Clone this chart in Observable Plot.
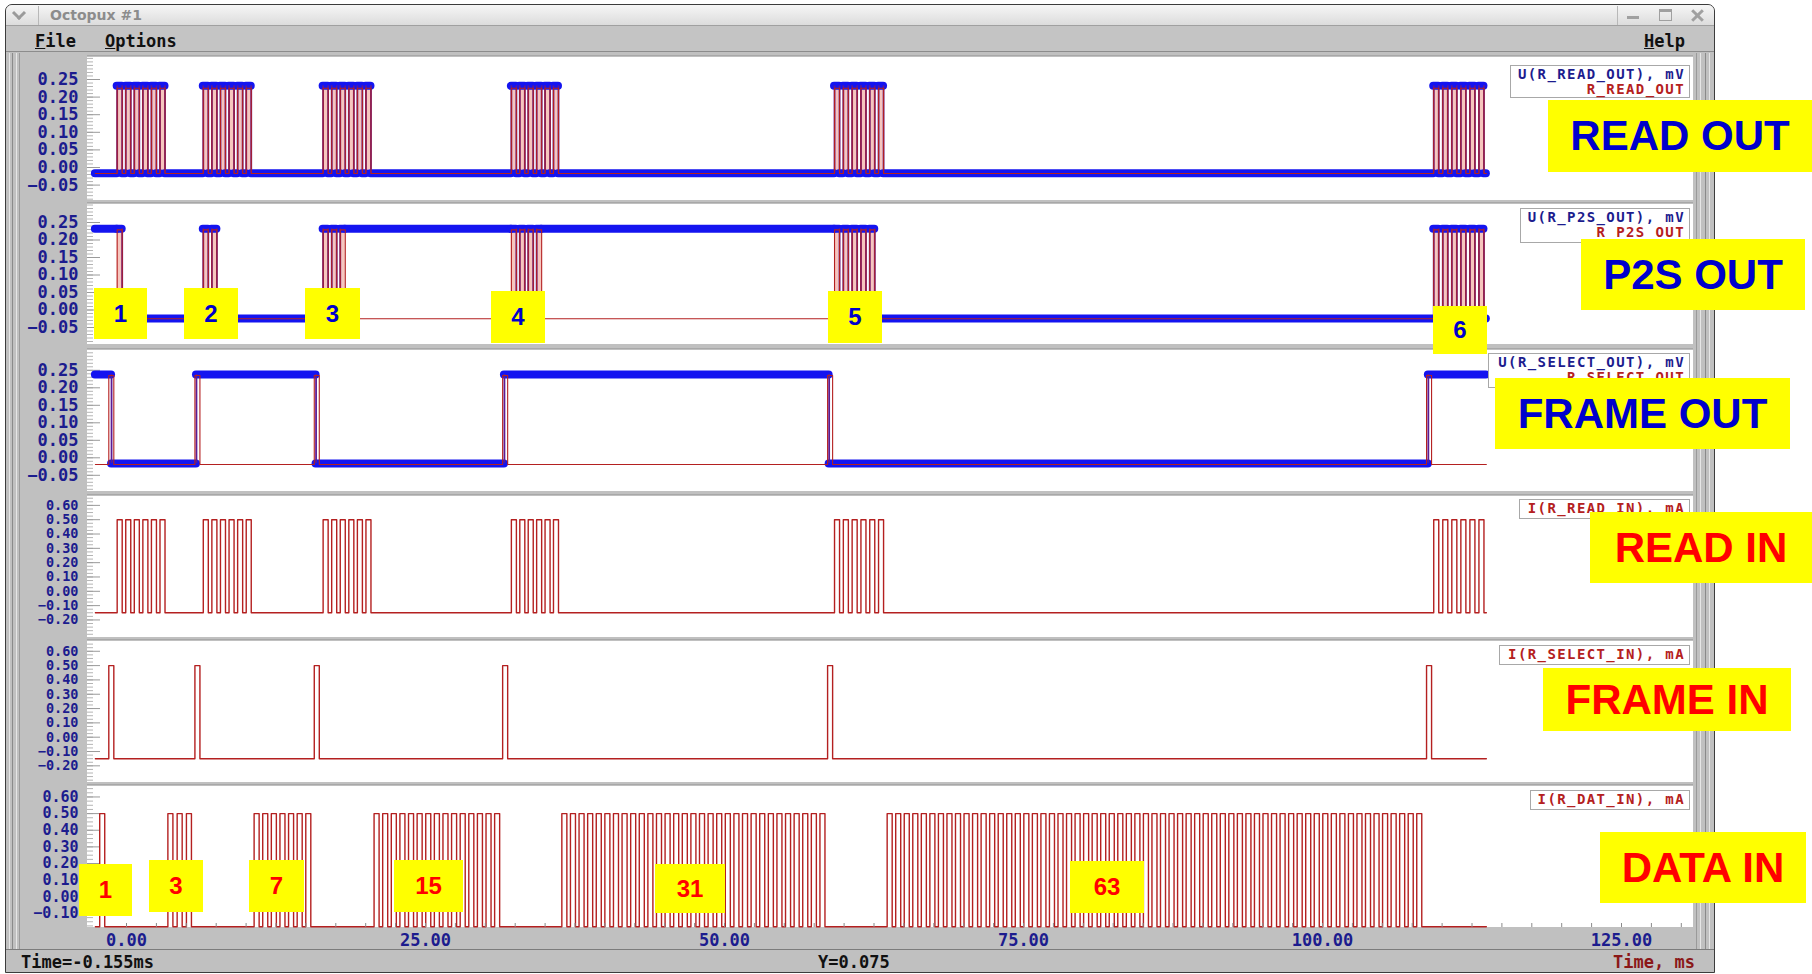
<!DOCTYPE html>
<html><head><meta charset="utf-8">
<script src="https://cdn.jsdelivr.net/npm/d3@7"></script>
<script src="https://cdn.jsdelivr.net/npm/@observablehq/plot@0.6"></script>
<style>
html,body{margin:0;padding:0;background:#fff;width:1812px;height:974px;overflow:hidden;}
#root{position:relative;width:1812px;height:974px;}
.mono{font-family:"DejaVu Sans Mono",monospace;font-weight:bold;font-size:17px;}
.ybox{background:#ffff00;display:flex;align-items:center;justify-content:center;font-family:"Liberation Sans",Arial,sans-serif;font-weight:bold;white-space:nowrap;}
.legend{background:#fff;border:1px solid #a8a8a8;text-align:right;padding-right:4px;box-sizing:border-box;line-height:15px;white-space:nowrap;font-family:"DejaVu Sans Mono",monospace;font-weight:bold;font-size:14px;letter-spacing:1.4px;}
svg{overflow:visible;}
</style></head>
<body><div id="root"></div>
<script>
// ================= DATA =================
const timeTicks = [0, 25, 50, 75, 100, 125];                 // ms
const outTicks  = [0.25, 0.20, 0.15, 0.10, 0.05, 0.00, -0.05]; // mV panels
const inTicks   = [0.60, 0.50, 0.40, 0.30, 0.20, 0.10, 0.00, -0.10, -0.20];
const datTicks  = [0.60, 0.50, 0.40, 0.30, 0.20, 0.10, 0.00, -0.10];

const traceStart = -2.6, traceEnd = 113.7;                     // ms
const pulseWidth = 0.42;                                       // ms
const frameInStart   = [-1.48, 5.72, 15.70, 31.45, 58.62, 108.70];
const readBurstStart = [-0.78, 6.42, 16.44, 32.18, 59.20, 109.30];
const readBurstEnd   = [ 3.22, 10.43, 20.44, 36.12, 63.30, 113.50];
const readPulseCount = [6, 6, 6, 6, 6, 6];
const dataBurstStart = [-2.24, 3.46, 10.67, 20.70, 36.40, 63.60];
const dataBurstEnd   = [-1.76, 5.43, 15.41, 31.20, 58.40, 108.30];
const dataPulseCount = [1, 3, 7, 15, 31, 63];
const p2sPulseCount  = [1, 2, 3, 4, 5, 6];
const p2sLevelAfter  = [0, 0, 1, 1, 0, 0];                     // 1 = held high after burst
const selectOutEdges = [-1.25, 5.85, 15.85, 31.60, 58.75, 108.85];

// signal levels [low, high]
const readOutRed = [-0.017, 0.225], readOutBlue = [-0.016, 0.232];
const p2sRed     = [-0.025, 0.229], p2sBlue     = [-0.024, 0.232];
const selOutRed  = [-0.019, 0.235], selOutBlue  = [-0.016, 0.238];
const readInLv   = [-0.15, 0.50];
const selInLv    = [-0.15, 0.50];
const datInLv    = [-0.18, 0.50];

const bigLabels    = ["READ OUT", "P2S OUT", "FRAME OUT", "READ IN", "FRAME IN", "DATA IN"];
const p2sBoxLabels = ["1", "2", "3", "4", "5", "6"];
const datBoxLabels = ["1", "3", "7", "15", "31", "63"];
const legendTop    = ["U(R_READ_OUT), mV", "U(R_P2S_OUT), mV", "U(R_SELECT_OUT), mV",
                      "I(R_READ_IN), mA", "I(R_SELECT_IN), mA", "I(R_DAT_IN), mA"];
const legendBottom = ["R_READ_OUT", "R_P2S_OUT", "R_SELECT_OUT", null, null, null];

// ================= derived tables =================
function bursts(starts, ends, counts) {
  return starts.map((s, b) => {
    const n = counts[b];
    const period = n > 1 ? (ends[b] - s - pulseWidth) / (n - 1) : 0;
    const list = [];
    for (let i = 0; i < n; i++) list.push([s + i * period, s + i * period + pulseWidth]);
    return list;
  });
}
const readPulses  = bursts(readBurstStart, readBurstEnd, readPulseCount);
const dataPulses  = bursts(dataBurstStart, dataBurstEnd, dataPulseCount);
const framePulses = frameInStart.map(s => [[s, s + pulseWidth]]);
const p2sPulses   = readPulses.map((l, b) => l.slice(0, p2sPulseCount[b]));

function train(pulseBursts, [lo, hi]) {
  const pts = [{t: traceStart, v: lo}];
  for (const list of pulseBursts) for (const [a, b] of list)
    pts.push({t: a, v: lo}, {t: a, v: hi}, {t: b, v: hi}, {t: b, v: lo});
  pts.push({t: traceEnd, v: lo});
  return pts;
}
function p2sBlueSteps([lo, hi]) {
  let level = 1;
  const pts = [{t: traceStart, v: hi}];
  p2sPulses.forEach((list, b) => {
    list.forEach(([a, e], i) => {
      pts.push({t: a, v: level ? hi : lo}, {t: a, v: hi});
      const next = i < list.length - 1 ? 0 : p2sLevelAfter[b];
      pts.push({t: e, v: hi}, {t: e, v: next ? hi : lo});
      level = next;
    });
  });
  pts.push({t: traceEnd, v: level ? hi : lo});
  return pts;
}
function toggles(edges, [lo, hi]) {
  let level = 1;
  const pts = [{t: traceStart, v: hi}];
  for (const e of edges) {
    pts.push({t: e, v: level ? hi : lo});
    level = 1 - level;
    pts.push({t: e, v: level ? hi : lo});
  }
  pts.push({t: traceEnd, v: level ? hi : lo});
  return pts;
}
function flats(pts) {
  const s = [];
  for (let i = 1; i < pts.length; i++)
    if (pts[i].v === pts[i - 1].v && pts[i].t > pts[i - 1].t) s.push({t1: pts[i - 1].t, t2: pts[i].t, v: pts[i].v});
  return s;
}
function verts(pts) {
  const s = [];
  for (let i = 1; i < pts.length; i++)
    if (pts[i].t === pts[i - 1].t && pts[i].v !== pts[i - 1].v) s.push({t: pts[i].t, v1: pts[i - 1].v, v2: pts[i].v});
  return s;
}

// ================= layout / style =================
const root = document.getElementById("root");
function box(css, text, cls) {
  const d = document.createElement("div");
  d.style.cssText = "position:absolute;" + css;
  if (cls) d.className = cls;
  if (text != null) d.textContent = text;
  root.appendChild(d);
  return d;
}
const NAVY = "#1c1c8e", RED = "#b42020", BLUE = "#1414f0", DARK = "#5a1c96", PINK = "#f6c6be";
const MONO = '"DejaVu Sans Mono", monospace';
const PX_PER_MS = 11.96, X0 = 126;
const plotLeft = 87, plotRight = 1693, svgLeft = 20;
const xDomain = [(plotLeft - X0) / PX_PER_MS, (plotRight - X0) / PX_PER_MS];
const panels = [
  {top: 57,  h: 143, zeroY: 167,   ppu: 352,   ticks: outTicks, minor: 0.01,  fs: 17},
  {top: 204, h: 140, zeroY: 309.5, ppu: 350,   ticks: outTicks, minor: 0.01,  fs: 17},
  {top: 350, h: 141, zeroY: 457.3, ppu: 350,   ticks: outTicks, minor: 0.01,  fs: 17},
  {top: 496, h: 141, zeroY: 590.8, ppu: 143.2, ticks: inTicks,  minor: 0.025, fs: 13.5},
  {top: 641, h: 141, zeroY: 736.7, ppu: 143.2, ticks: inTicks,  minor: 0.025, fs: 13.5},
  {top: 786, h: 141, zeroY: 896.3, ppu: 166.4, ticks: datTicks, minor: 0.025, fs: 15}
];

// ---- window chrome ----
box("left:5px;top:4px;width:1710px;height:969px;border:1px solid #3c3c3c;border-radius:7px 7px 0 0;background:#c0c0c0;box-sizing:border-box;");
box("left:6px;top:5px;width:1708px;height:20px;border-radius:6px 6px 0 0;background:linear-gradient(#f6f6f6,#dcdcdc);border-bottom:1px solid #a0a0a0;");
box("left:14px;top:8px;width:7px;height:7px;border-right:3px solid #9a9a9a;border-bottom:3px solid #9a9a9a;transform:rotate(45deg);");
box("left:38px;top:6px;width:1px;height:19px;background:#b8b8b8;");
box("left:50px;top:5px;font:bold 14px 'DejaVu Sans',sans-serif;color:#8c8c8c;line-height:20px;", "Octopux #1");
box("left:1617px;top:6px;width:1px;height:19px;background:#b8b8b8;");
box("left:1627px;top:16px;width:12px;height:3px;background:#a0a0a0;");
box("left:1659px;top:9px;width:11px;height:8px;border:1px solid #a0a0a0;border-top:3px solid #a0a0a0;");
box("left:1690px;top:14px;width:15px;height:3px;background:#a0a0a0;transform:rotate(45deg);");
box("left:1690px;top:14px;width:15px;height:3px;background:#a0a0a0;transform:rotate(-45deg);");
// menu bar
box("left:6px;top:26px;width:1708px;height:26px;background:#c4c4c4;border-bottom:1px solid #8c8c8c;box-sizing:border-box;");
box("left:35px;top:31px;color:#111;", null, "mono").innerHTML = "<u>F</u>ile";
box("left:105px;top:31px;color:#111;", null, "mono").innerHTML = "<u>O</u>ptions";
box("left:1644px;top:31px;color:#111;", null, "mono").innerHTML = "<u>H</u>elp";
// side decorations
for (const [x, c] of [[9, "#e6e6e6"], [12, "#8a8a8a"], [16, "#e6e6e6"], [19, "#9a9a9a"], [1696, "#9a9a9a"], [1700, "#e6e6e6"], [1705, "#8a8a8a"], [1709, "#e6e6e6"]])
  box(`left:${x}px;top:53px;width:1px;height:896px;background:${c};`);
// panel backgrounds
panels.forEach(p => {
  box(`left:${plotLeft}px;top:${p.top}px;width:${plotRight - plotLeft}px;height:${p.h}px;background:#fff;`);
  box(`left:${plotLeft}px;top:${p.top - 2}px;width:${plotRight - plotLeft}px;height:1px;background:#a8a8a8;`);
});
// status bar
box("left:6px;top:949px;width:1708px;height:1px;background:#7c7c7c;");
box("left:21px;top:952px;color:#111;line-height:20px;", "Time=-0.155ms", "mono");
box("left:818px;top:952px;color:#111;line-height:20px;", "Y=0.075", "mono");
box("left:1600px;top:952px;width:95px;text-align:right;color:#8b1818;line-height:20px;", "Time, ms", "mono");

// ---- plots ----
function makePanel(i, marks) {
  const p = panels[i];
  const last = i === panels.length - 1;
  const yDomain = [(p.zeroY - (p.top + p.h)) / p.ppu, (p.zeroY - p.top) / p.ppu];
  const x0 = xDomain[0];
  const minorTicks = d3.range(Math.ceil(yDomain[0] / p.minor), Math.floor(yDomain[1] / p.minor) + 1).map(k => k * p.minor);
  const all = [
    Plot.ruleY(minorTicks, {y: d => d, x1: () => x0, x2: () => x0 + 6 / PX_PER_MS, stroke: "#b4b4b4", strokeWidth: 1}),
    Plot.ruleY(p.ticks, {y: d => d, x1: () => x0, x2: () => x0 + 13 / PX_PER_MS, stroke: "#9a9a9a", strokeWidth: 1}),
    ...marks,
    Plot.axisY(p.ticks, {anchor: "left", tickSize: 0, tickPadding: 9, label: null,
      tickFormat: d3.format(".2f"), fill: NAVY, fontSize: p.fs, fontFamily: MONO, fontWeight: "bold",
      letterSpacing: p.fs < 17 ? (17 - p.fs) * 0.55 : 0})
  ];
  if (last) {
    const xt = d3.range(0, 131, 2.5);
    all.push(
      Plot.ruleX(xt, {x: d => d, y1: () => yDomain[0], y2: () => yDomain[0] + 4 / p.ppu, stroke: "#8a8a8a"}),
      Plot.axisX(timeTicks, {anchor: "bottom", tickSize: 0, tickPadding: 6, label: null,
        tickFormat: d3.format(".2f"), fill: NAVY, fontSize: 17, fontFamily: MONO, fontWeight: "bold"})
    );
  }
  const svg = Plot.plot({
    width: plotRight - svgLeft, height: p.h + (last ? 22 : 0),
    marginLeft: plotLeft - svgLeft, marginRight: 0, marginTop: 0, marginBottom: last ? 22 : 0,
    x: last ? {domain: xDomain, label: null} : {domain: xDomain, label: null, axis: null},
    y: {domain: yDomain, label: null},
    style: {background: "transparent", overflow: "visible", fontFamily: MONO},
    marks: all
  });
  svg.style.position = "absolute";
  svg.style.left = svgLeft + "px";
  svg.style.top = p.top + "px";
  root.appendChild(svg);
}

function outMarks(redPts, bluePts, lo, pinkFill) {
  const m = [];
  if (pinkFill) m.push(Plot.areaY(redPts, {x: "t", y1: () => lo, y2: "v", fill: PINK}));
  m.push(
    Plot.ruleY(flats(bluePts), {y: "v", x1: "t1", x2: "t2", stroke: BLUE, strokeWidth: 8, strokeLinecap: "round"}),
    Plot.ruleX(verts(bluePts), {x: "t", y1: "v1", y2: "v2", stroke: DARK, strokeWidth: 1.8}),
    Plot.line(redPts, {x: "t", y: "v", stroke: RED, strokeWidth: 1.1})
  );
  return m;
}
function inMarks(pts) {
  return [Plot.line(pts, {x: "t", y: "v", stroke: RED, strokeWidth: 1.4})];
}

makePanel(0, outMarks(train(readPulses, readOutRed), train(readPulses, readOutBlue), readOutRed[0], true));
makePanel(1, outMarks(train(p2sPulses, p2sRed), p2sBlueSteps(p2sBlue), p2sRed[0], true));
makePanel(2, outMarks(train(framePulses, selOutRed), toggles(selectOutEdges, selOutBlue), selOutRed[0], false));
makePanel(3, inMarks(train(readPulses, readInLv)));
makePanel(4, inMarks(train(framePulses, selInLv)));
makePanel(5, inMarks(train(dataPulses, datInLv)));

// ---- legends ----
const legendBoxes = [
  [1510, 65, 180, 33], [1520, 208, 170, 35], [1488, 353, 202, 35],
  [1519, 499, 171, 20], [1499, 645, 191, 20], [1530, 790, 160, 20]
];
legendBoxes.forEach(([x, y, w, h], i) => {
  const d = box(`left:${x}px;top:${y}px;width:${w}px;height:${h}px;padding-top:1px;`, null, "legend");
  const l1 = document.createElement("div");
  l1.textContent = legendTop[i];
  l1.style.color = legendBottom[i] ? NAVY : RED;
  d.appendChild(l1);
  if (legendBottom[i]) {
    const l2 = document.createElement("div");
    l2.textContent = legendBottom[i];
    l2.style.color = RED;
    d.appendChild(l2);
  }
});

// ---- small yellow number boxes ----
const p2sBoxes = [[94, 288, 53, 51], [184, 288, 54, 51], [305, 288, 55, 51], [491, 291, 54, 52], [828, 291, 54, 52], [1433, 306, 54, 48]];
p2sBoxes.forEach(([x, y, w, h], i) =>
  box(`left:${x}px;top:${y}px;width:${w}px;height:${h}px;font-size:24px;color:#0000cc;`, p2sBoxLabels[i], "ybox"));
const datBoxes = [[79, 864, 53, 52], [149, 860, 54, 52], [249, 860, 55, 52], [394, 860, 69, 52], [655, 864, 70, 49], [1070, 861, 74, 52]];
datBoxes.forEach(([x, y, w, h], i) =>
  box(`left:${x}px;top:${y}px;width:${w}px;height:${h}px;font-size:24px;color:#ff0000;`, datBoxLabels[i], "ybox"));

// ---- big yellow labels ----
const bigBoxes = [[1548, 100, 264, 72], [1581, 239, 224, 71], [1495, 378, 295, 71], [1590, 512, 222, 71], [1543, 668, 248, 63], [1600, 832, 206, 71]];
const bigColors = ["#0000cc", "#0000cc", "#0000cc", "#ff0000", "#ff0000", "#ff0000"];
bigBoxes.forEach(([x, y, w, h], i) =>
  box(`left:${x}px;top:${y}px;width:${w}px;height:${h}px;font-size:42px;color:${bigColors[i]};`, bigLabels[i], "ybox"));
</script>
</body></html>
